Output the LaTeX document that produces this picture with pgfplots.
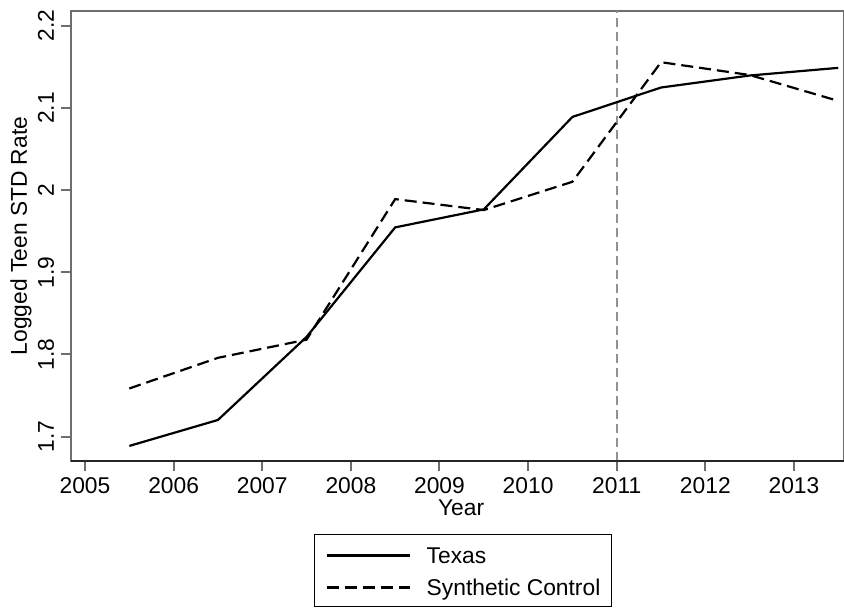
\documentclass[border=0pt]{standalone}
\usepackage{pgfplots}
\pgfplotsset{compat=1.18}
\usepackage{fontspec}
\setmainfont{Liberation Sans}
\definecolor{framegray}{RGB}{110,110,110}
\definecolor{vgray}{RGB}{145,145,145}
\begin{document}
\begin{tikzpicture}[font=\fontsize{11.4bp}{13.5bp}\selectfont]
\begin{axis}[
  scale only axis, width=386.25bp, height=225bp,
  xmin=2004.842, xmax=2013.559, ymin=1.6704, ymax=2.2179,
  clip mode=individual,
  axis line style={draw=framegray, line width=1bp},
  tick align=outside, tick pos=left,
  major tick length=5bp,
  every tick/.style={draw=framegray, line width=1bp},
  xtick={2005,2006,2007,2008,2009,2010,2011,2012,2013},
  ytick={1.7,1.8,1.9,2,2.1,2.2},
  /pgf/number format/.cd, 1000 sep={}, assume math mode=true,
  /pgfplots/.cd,
  ticklabel style={font=\fontsize{11.4bp}{13.5bp}\selectfont},
  yticklabel style={rotate=90, anchor=south},
  xlabel={Year}, ylabel={Logged Teen STD Rate},
  xlabel style={at={(axis description cs:0.505,-0.1222)}, anchor=base},
  ylabel style={at={(axis description cs:-0.057,0.5)}, anchor=base},
  legend style={
    at={(axis description cs:0.3146,-0.1622)}, anchor=north west,
    draw=black, line width=0.5bp,
    inner xsep=5.5bp, inner ysep=5bp,
    row sep=6.2bp,
    nodes={inner sep=0pt, text height=9.5bp, text depth=0.3bp, anchor=base west},
    /tikz/every even column/.append style={column sep=4.6bp},
    /tikz/every odd column/.append style={column sep=8bp},
    font=\fontsize{11.4bp}{13.5bp}\selectfont,
  },
  legend image code/.code={\draw[#1] (0bp,4bp) -- (41.5bp,4bp);},
]
\addplot[vgray, line width=1bp, dash pattern=on 4.5bp off 2.5bp, forget plot]
  coordinates {(2011,1.6704) (2011,2.2179)};
\addplot[black, line width=1.1bp]
  coordinates {(2005.5,1.6887) (2006.5,1.7203) (2007.5,1.8214) (2008.5,1.9546) (2009.5,1.9765) (2010.5,2.089) (2011.5,2.1248) (2012.5,2.1394) (2013.5,2.1487)};
\addlegendentry{Texas}
\addplot[black, line width=1.1bp, dash pattern=on 6bp off 3bp]
  coordinates {(2005.5,1.7586) (2006.5,1.7959) (2007.5,1.818) (2008.5,1.989) (2009.5,1.9757) (2010.5,2.0101) (2011.5,2.1556) (2012.5,2.1400) (2013.5,2.1085)};
\addlegendentry{Synthetic Control}
\draw[black!85, line width=1bp] (rel axis cs:0,0) -- (rel axis cs:1,0);
\coordinate (sw) at (rel axis cs:0,0);
\coordinate (ne) at (rel axis cs:1,1);
\end{axis}
\pgfresetboundingbox
\path ([xshift=-35.5bp,yshift=-73.5bp]sw) rectangle ([xshift=0.25bp,yshift=5.5bp]ne);
\end{tikzpicture}
\end{document}
